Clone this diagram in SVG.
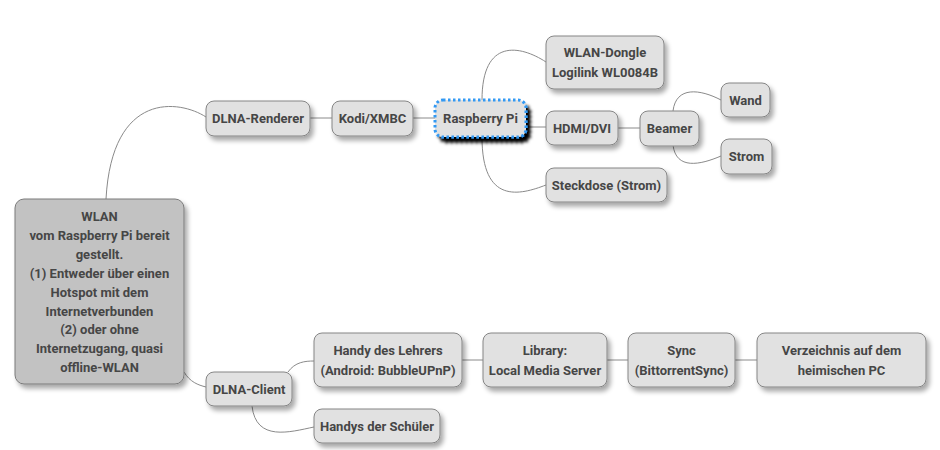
<svg xmlns="http://www.w3.org/2000/svg" width="940" height="450" viewBox="0 0 940 450">
<defs>
<filter id="sh" x="-20%" y="-20%" width="150%" height="160%">
<feGaussianBlur in="SourceAlpha" stdDeviation="2.5"/>
<feOffset dx="3" dy="4" result="b"/>
<feComponentTransfer><feFuncA type="linear" slope="0.35"/></feComponentTransfer>
<feMerge><feMergeNode/><feMergeNode in="SourceGraphic"/></feMerge>
</filter>
<filter id="shk" x="-20%" y="-30%" width="150%" height="180%">
<feGaussianBlur in="SourceAlpha" stdDeviation="1.5"/>
<feOffset dx="4" dy="5" result="b"/>
<feComponentTransfer><feFuncA type="linear" slope="1"/></feComponentTransfer>
<feMerge><feMergeNode/><feMergeNode in="SourceGraphic"/></feMerge>
</filter>
</defs>
<style>
.n{fill:#e1e1e1;stroke:#858585;stroke-width:1;filter:url(#sh)}
.r{fill:#c2c2c2;stroke:#7a7a7a;stroke-width:1;filter:url(#sh)}
.sel{fill:#e1e1e1;stroke:#3399f3;stroke-width:3;stroke-dasharray:2.5 2.5;filter:url(#shk)}
text{font-family:Roboto,"Liberation Sans",sans-serif;font-weight:bold;font-size:13px;fill:#464646;text-anchor:middle}
.c{fill:none;stroke:#8a8a8a;stroke-width:1}
</style>
<rect width="940" height="450" fill="#ffffff"/>
<g id="connectors">
<path class="c" d="M106,199 C112,90 180,100 206,117"/>
<path class="c" d="M184,372 C190,382 198,385 206,387"/>
<path class="c" d="M310,118 L332,118"/>
<path class="c" d="M413,118 L435,118"/>
<path class="c" d="M482,100 C482,38 520,45 546,62"/>
<path class="c" d="M527,127 L546,127"/>
<path class="c" d="M482,137 C482,205 520,195 546,185"/>
<path class="c" d="M618,128 L640,128"/>
<path class="c" d="M673,111 C676,86 700,89 721,100"/>
<path class="c" d="M673,145 C676,170 700,165 721,156"/>
<path class="c" d="M288,372 C295,362 305,361 314,361"/>
<path class="c" d="M252,406 C256,442 290,432 314,427"/>
<path class="c" d="M462,360 L483,360"/>
<path class="c" d="M607,360 L628,360"/>
<path class="c" d="M735,360 L757,360"/>
</g>
<g id="root">
<rect class="r" x="15" y="199" width="169" height="185" rx="9"/>
<text x="99.5" y="221">WLAN</text>
<text x="99.5" y="240">vom Raspberry Pi bereit</text>
<text x="99.5" y="259">gestellt.</text>
<text x="99.5" y="278">(1) Entweder über einen</text>
<text x="99.5" y="296.5">Hotspot mit dem</text>
<text x="99.5" y="315.5">Internetverbunden</text>
<text x="99.5" y="334">(2) oder ohne</text>
<text x="99.5" y="353">Internetzugang, quasi</text>
<text x="99.5" y="372">offline-WLAN</text>
</g>
<g id="dlna-renderer">
<rect class="n" x="206" y="101" width="104" height="35" rx="8"/>
<text x="258" y="123">DLNA-Renderer</text>
</g>
<g id="kodi">
<rect class="n" x="332" y="101" width="81" height="35" rx="8"/>
<text x="372.5" y="123">Kodi/XMBC</text>
</g>
<g id="raspberry">
<rect class="sel" x="435" y="100" width="91" height="37" rx="8"/>
<text x="480.5" y="123">Raspberry Pi</text>
</g>
<g id="wlan-dongle">
<rect class="n" x="546" y="36" width="118" height="53" rx="8"/>
<text x="605" y="57">WLAN-Dongle</text>
<text x="605" y="77">Logilink WL0084B</text>
</g>
<g id="hdmi">
<rect class="n" x="546" y="111" width="72" height="34" rx="8"/>
<text x="582" y="132.5">HDMI/DVI</text>
</g>
<g id="beamer">
<rect class="n" x="640" y="111" width="59" height="35" rx="8"/>
<text x="669.5" y="133">Beamer</text>
</g>
<g id="wand">
<rect class="n" x="721" y="83" width="49" height="34" rx="8"/>
<text x="745.5" y="104.5">Wand</text>
</g>
<g id="strom">
<rect class="n" x="721" y="139" width="51" height="35" rx="8"/>
<text x="746.5" y="161">Strom</text>
</g>
<g id="steckdose">
<rect class="n" x="546" y="168" width="121" height="34" rx="8"/>
<text x="606.5" y="189.5">Steckdose (Strom)</text>
</g>
<g id="dlna-client">
<rect class="n" x="206" y="372" width="86" height="34" rx="8"/>
<text x="249" y="393.5">DLNA-Client</text>
</g>
<g id="handy-lehrer">
<rect class="n" x="314" y="333" width="148" height="54" rx="8"/>
<text x="388" y="355">Handy des Lehrers</text>
<text x="388" y="374.5">(Android: BubbleUPnP)</text>
</g>
<g id="handys-schueler">
<rect class="n" x="314" y="409" width="126" height="34" rx="8"/>
<text x="377" y="430.5">Handys der Schüler</text>
</g>
<g id="library">
<rect class="n" x="483" y="333" width="124" height="54" rx="8"/>
<text x="545" y="355">Library:</text>
<text x="545" y="374.5">Local Media Server</text>
</g>
<g id="sync">
<rect class="n" x="628" y="333" width="107" height="54" rx="8"/>
<text x="681.5" y="355">Sync</text>
<text x="681.5" y="374.5">(BittorrentSync)</text>
</g>
<g id="verzeichnis">
<rect class="n" x="757" y="333" width="169" height="54" rx="8"/>
<text x="841.5" y="355">Verzeichnis auf dem</text>
<text x="841.5" y="374.5">heimischen PC</text>
</g>
</svg>
